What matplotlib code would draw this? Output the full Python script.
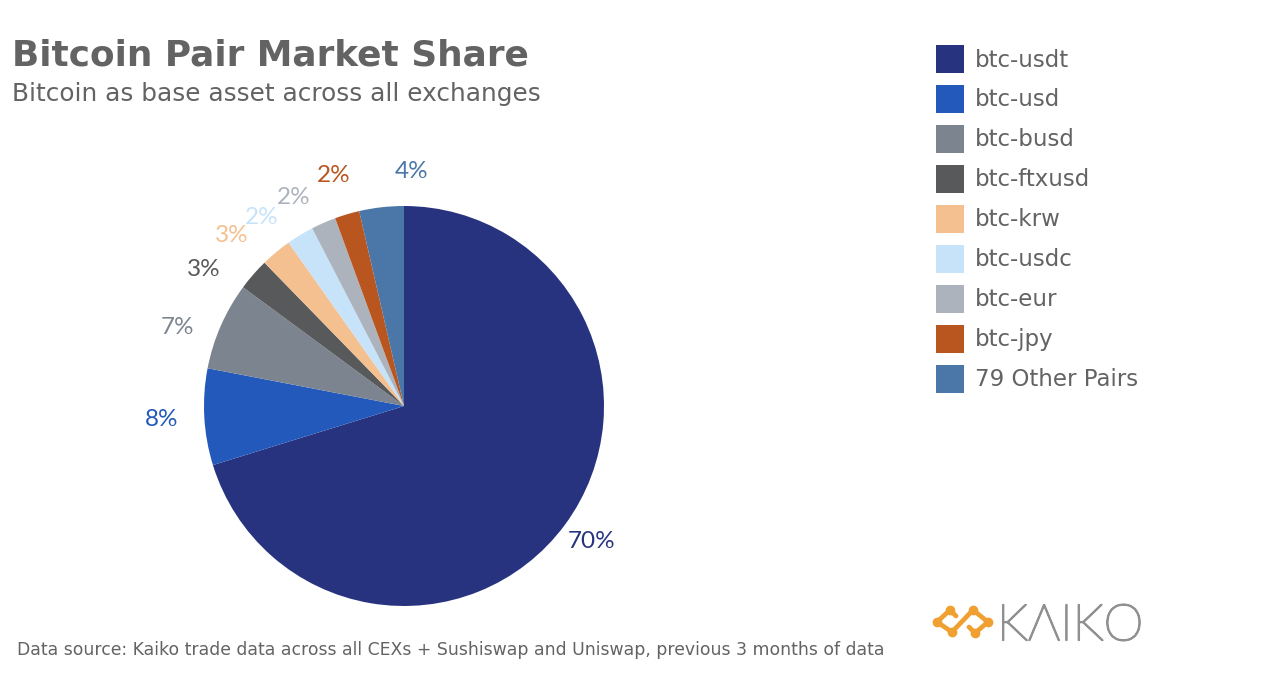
import matplotlib
matplotlib.use('Agg')
import matplotlib.pyplot as plt
import matplotlib.patheffects as pe
from matplotlib.lines import Line2D

W, H = 1274, 680

pairs = ['btc-usdt', 'btc-usd', 'btc-busd', 'btc-ftxusd', 'btc-krw',
         'btc-usdc', 'btc-eur', 'btc-jpy', '79 Other Pairs']
shares = [70.3, 7.8, 7.1, 2.6, 2.5, 2.2, 2.0, 2.0, 3.6]
colors = ['#27337f', '#2259bb', '#7c8490', '#58595b', '#f5c08f',
          '#c7e3f9', '#adb3bd', '#b9561f', '#4a76a8']
pct_labels = ['70%', '8%', '7%', '3%', '3%', '2%', '2%', '2%', '4%']
# label centres in pixels, they are not radial in the original
pct_xy = [(592, 541), (162, 419), (178, 327), (204, 269), (232, 235),
          (262, 217), (294, 197), (334, 175), (412, 171)]

TEXT_GREY = '#636363'

fig = plt.figure(figsize=(W / 100, H / 100), dpi=100)

# pie sits at a fixed pixel box, centre (404, 406), radius 200
ax = fig.add_axes([204 / W, (H - 606) / H, 400 / W, 400 / H])
wedges, _ = ax.pie(shares, colors=colors, startangle=90, counterclock=False,
                   radius=1)
ax.set_xlim(-1, 1)
ax.set_ylim(-1, 1)

# overlay in pixel coordinates for the text and logo
ov = fig.add_axes([0, 0, 1, 1], zorder=-1)
ov.set_xlim(0, W)
ov.set_ylim(H, 0)
ov.axis('off')

for lab, (x, y), c in zip(pct_labels, pct_xy, colors):
    ov.text(x, y, lab, color=c, fontsize=17.5, family='Lato',
            ha='center', va='center')

ov.text(12, 56, 'Bitcoin Pair Market Share', fontsize=25.8, fontweight='bold',
        color=TEXT_GREY, va='center', ha='left')
ov.text(12, 94, 'Bitcoin as base asset across all exchanges', fontsize=17.8,
        color=TEXT_GREY, va='center', ha='left')
ov.text(17, 650, 'Data source: Kaiko trade data across all CEXs + Sushiswap '
        'and Uniswap, previous 3 months of data', fontsize=12.4,
        color=TEXT_GREY, va='center', ha='left')

# legend
fs = 16.5
fs_px = fs * 100 / 72
fig.legend(wedges, pairs, loc='upper left',
           bbox_to_anchor=(936 / W, 1 - 45 / H), frameon=False, fontsize=fs,
           handlelength=28 / fs_px, handleheight=1.5,
           handletextpad=11 / fs_px, labelspacing=12 / fs_px, borderpad=0,
           borderaxespad=0, labelcolor=TEXT_GREY)

# logo
orange = '#f0a030'
for xs, ys in [([950, 937, 952], [610, 622, 632]),
               ([973, 988, 975], [610, 622, 633]),
               ([973, 952], [610, 632]),
               ([950, 956], [610, 616]),
               ([975, 969], [633, 627])]:
    ov.add_line(Line2D(xs, ys, color=orange, lw=3.4, solid_capstyle='round',
                       solid_joinstyle='round'))
ov.plot([950, 937, 952, 973, 988, 975], [610, 622, 632, 610, 622, 633], 'o',
        color=orange, ms=6)
ov.text(997, 626, 'KΛIKO', fontsize=36.5, family='Lato', fontweight='light',
        color='#909090', va='center', ha='left',
        path_effects=[pe.withStroke(linewidth=1.3, foreground='#909090')])

fig.savefig('out.png', dpi=100, facecolor='white')
